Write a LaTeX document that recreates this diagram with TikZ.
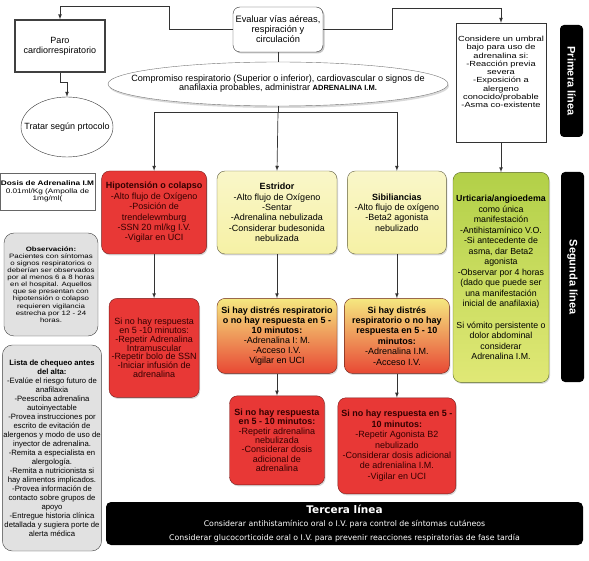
\documentclass[tikz,border=0pt]{standalone}
\usepackage{fontspec}
\setmainfont{Liberation Sans}
\newfontfamily\widesans[FakeStretch=1.25]{Liberation Sans}
\newfontfamily\verdanalike{DejaVu Sans}
\usetikzlibrary{shapes.geometric,arrows,positioning,shadows}
\definecolor{alarmred}{RGB}{232,56,54}
\definecolor{paleyellow}{RGB}{246,241,165}
\definecolor{warmyellow}{RGB}{245,232,128}
\definecolor{warmred}{RGB}{232,72,52}
\definecolor{leafgreen}{RGB}{178,208,72}
\definecolor{palelime}{RGB}{224,232,118}
\definecolor{panelgray}{RGB}{225,225,225}

\begin{document}
\begin{tikzpicture}[x=1pt,y=-1pt,>=latex,
link/.style={draw=black!80, line width=0.7pt},
plainbox/.style={
% The shape:
rectangle,
% The border:
draw=black!80, fill=white,
% Text
inner sep=1pt, align=center,
font=\fontsize{9}{10}\selectfont
},
softbox/.style={
% The shape:
rectangle, rounded corners=8pt,
% The shadow:
drop shadow={shadow xshift=1pt, shadow yshift=-1.5pt, opacity=0.3},
% Text
inner sep=1pt, align=center, text=black,
font=\fontsize{9}{10.4}\selectfont
},
redbox/.style={softbox, fill=alarmred, draw=alarmred!50!black, text=black!80!red},
yellowbox/.style={softbox, top color=paleyellow!60!white, bottom color=paleyellow, draw=paleyellow!40!black},
orangebox/.style={softbox, top color=warmyellow, bottom color=warmred, draw=warmred!45!black},
greenbox/.style={softbox, top color=leafgreen, bottom color=palelime, draw=leafgreen!50!black},
graybox/.style={
% The shape:
rectangle, rounded corners=10pt,
% The border and filling:
draw=black!75, fill=panelgray,
inner sep=1pt, align=center},
tab/.style={rectangle, rounded corners=4pt, fill=black, text=white, inner sep=0pt,
font=\fontsize{11}{12}\selectfont\bfseries}
]
\useasboundingbox (0,0) rectangle (589,561);

% top row
\node (paro) [plainbox, draw=black!75, line width=1.3pt, drop shadow={shadow xshift=1pt, shadow yshift=-1pt, opacity=0.3}, minimum width=90pt, minimum height=52pt] at (60,46) {Paro\\cardiorrespiratorio};
\node (tratar) [ellipse, draw=black!80, inner xsep=-14pt, inner ysep=0pt, minimum width=92pt, minimum height=60pt, font=\fontsize{9}{10}\selectfont] at (67,127) {Tratar según prtocolo};
\node (eval) [plainbox, rounded corners=7pt, drop shadow={shadow xshift=1.5pt, shadow yshift=-1.5pt, opacity=0.45}, minimum width=90pt, minimum height=45pt, font=\fontsize{9.3}{10}\selectfont] at (278,29.5) {Evaluar vías aéreas,\\respiración y\\circulación};
\node (comp) [ellipse, draw=black!55, fill=white, drop shadow={shadow xshift=1pt, shadow yshift=-2pt, opacity=0.3}, inner xsep=-35pt, inner ysep=0pt, minimum width=340pt, minimum height=44pt, align=center, font=\fontsize{9.1}{9.2}\selectfont] at (278,84) {Compromiso respiratorio (Superior o inferior), cardiovascular o signos de\\anafilaxia probables, administrar {\fontsize{7.5}{9}\selectfont\bfseries ADRENALINA I.M.}};
\node (umbral) [plainbox, drop shadow={shadow xshift=1pt, shadow yshift=-1pt, opacity=0.25}, minimum width=90pt, minimum height=119pt, font=\widesans\fontsize{7.4}{8.3}\selectfont] at (501,82.5) {Considere un umbral\\bajo para uso de\\adrenalina si:\\-Reacción previa\\severa\\-Exposición a\\alergeno\\conocido/probable\\-Asma co-existente\\[12.7pt]\mbox{}};
\node (firstline) [tab, rotate=-90, minimum width=112pt, minimum height=23pt] at (571.5,81) {Primera línea};

% second line
\node (estr) [yellowbox, minimum width=120pt, minimum height=83pt] at (277,212.5) {\textbf{Estridor}\\-Alto flujo de Oxígeno\\-Sentar\\-Adrenalina nebulizada\\-Considerar budesonida\\nebulizada};
\node (hipo) [redbox, minimum width=105pt, minimum height=83pt, left=10pt of estr] {\textbf{Hipotensión o colapso}\\-Alto flujo de Oxígeno\\-Posición de\\trendelewmburg\\-SSN 20 ml/kg I.V.\\-Vigilar en UCI};
\node (sib) [yellowbox, minimum width=99pt, minimum height=83pt, right=10pt of estr] {\textbf{Sibiliancias}\\-Alto flujo de oxígeno\\-Beta2 agonista\\nebulizado};
\node (urt) [greenbox, minimum width=96pt, minimum height=210pt, below=30pt of umbral, font=\fontsize{8.8}{10.5}\selectfont] {\textbf{Urticaria/angioedema}\\como única\\manifestación\\-Antihistamínico V.O.\\-Si antecedente de\\asma, dar Beta2\\agonista\\-Observar por 4 horas\\(dado que puede ser\\una manifestación\\inicial de anafilaxia)\\[11pt]Si vómito persistente o\\dolor abdominal\\considerar\\Adrenalina I.M.};
\node (secondline) [tab, rotate=-90, minimum width=210pt, minimum height=23pt] at (572.5,277) {Segunda línea};

\node (hipoB) [redbox, minimum width=90pt, minimum height=99pt, below=44pt of hipo, font=\fontsize{9}{8.8}\selectfont] {Si no hay respuesta\\en 5 -10 minutos:\\-Repetir Adrenalina\\Intramuscular\\-Repetir bolo de SSN\\-Iniciar infusión de\\adrenalina};
\node (estrB) [orangebox, minimum width=120pt, minimum height=75pt, below=44pt of estr, font=\fontsize{9}{10}\selectfont] {\textbf{Si hay distrés respiratorio}\\\textbf{o no hay respuesta en 5 -}\\\textbf{10 minutos:}\\-Adrenalina I: M.\\-Acceso I.V.\\Vigilar en UCI};
\node (sibB) [orangebox, minimum width=105pt, minimum height=75pt, below=44pt of sib] {\textbf{Si hay distrés}\\\textbf{respiratorio o no hay}\\\textbf{respuesta en 5 - 10}\\\textbf{minutos:}\\-Adrenalina I.M.\\-Acceso I.V.};
\node (estrC) [redbox, minimum width=95pt, minimum height=89pt, below=22pt of estrB, font=\fontsize{9}{9.3}\selectfont] {\textbf{Si no hay respuesta}\\\textbf{en 5 - 10 minutos:}\\-Repetir adrenalina\\nebulizada\\-Considerar dosis\\adicional de\\adrenalina};
\node (sibC) [redbox, minimum width=118pt, minimum height=96pt, below=24pt of sibB] {\textbf{Si no hay respuesta en 5 -}\\\textbf{10 minutos:}\\-Repetir Agonista B2\\nebulizado\\-Considerar dosis adicional\\de adrenialina I.M.\\-Vigilar en UCI};

% left column
\node (dosis) [plainbox, draw=black!60, drop shadow={shadow xshift=1pt, shadow yshift=-1pt, opacity=0.25}, minimum width=91pt, minimum height=37pt, font=\widesans\fontsize{6.6}{7.5}\selectfont] at (47.5,191.5) {\textbf{Dosis de Adrenalina I.M}\\0.01ml/Kg (Ampolla de\\1mg/ml(};
\node (obs) [graybox, minimum width=94pt, minimum height=103pt, font=\widesans\fontsize{6.3}{7.1}\selectfont] at (51,284.5) {\textbf{Observación:}\\Pacientes con síntomas\\o signos respiratorios o\\deberían ser observados\\por al menos 6 a 8 horas\\en el hospital. Aquellos\\que se presentan con\\hipotensión o colapso\\requieren vigilancia\\estrecha por 12 - 24\\horas.};
\node (lista) [graybox, minimum width=98pt, minimum height=206pt, font=\fontsize{7.7}{9}\selectfont] at (52,448) {\textbf{Lista de chequeo antes}\\\textbf{del alta:}\\-Evalúe el riesgo futuro de\\anafilaxia\\-Peescriba adrenalina\\autoinyectable\\-Provea instrucciones por\\escrito de evitación de\\alergenos y modo de uso de\\inyector de adrenalina.\\-Remita a especialista en\\alergología.\\-Remita a nutricionista si\\hay alimentos implicados.\\-Provea información de\\contacto sobre grupos de\\apoyo\\-Entregue historia clínica\\detallada y sugiera porte de\\alerta médica};

% third line
\node (thirdline) [rectangle, rounded corners=5pt, fill=black, text=white, align=center, inner sep=1pt, minimum width=477pt, minimum height=43pt, font=\verdanalike\fontsize{7.8}{13.5}\selectfont] at (344.5,523.5) {{\fontsize{10.5}{12}\selectfont\bfseries Tercera línea}\\Considerar antihistamínico oral o I.V. para control de síntomas cutáneos\\Considerar glucocorticoide oral o I.V. para prevenir reacciones respiratorias de fase tardía};

% connectors
\draw [link,->] (eval.west) -- ++(-63,0) -- ++(0,-23) -| (paro.north);
\draw [link,->] (eval.east) -- ++(69,0) -- ++(0,-21) -| (umbral.north);
\draw [link,->] (paro.south) -- ++(0,10) -| (tratar.north);
\draw [link] (eval) -- (comp);
\draw [link] (comp.south) -- ++(0,6) coordinate (split);
\draw [link,->] (split) -| (hipo.north);
\draw [link,->] (split) -- (estr.north);
\draw [link,->] (split) -| (sib.north);
\draw [link,->] (umbral) -- (urt);
\draw [link,->] (hipo) -- (hipoB);
\draw [link,->] (estr) -- (estrB);
\draw [link,->] (estrB) -- (estrC);
\draw [link,->] (sib) -- (sibB);
\draw [link,->] (sibB) -- (sibC);
\end{tikzpicture}
\end{document}
